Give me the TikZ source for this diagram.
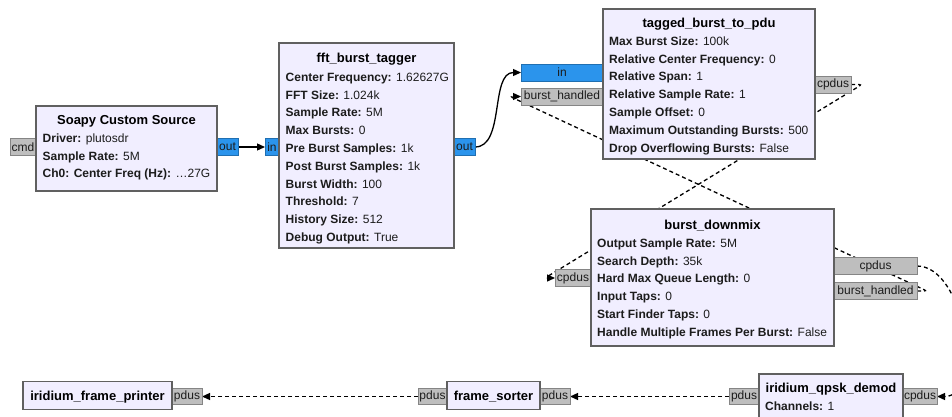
\documentclass[tikz,border=0pt]{standalone}
\usepackage{fontspec}
\setmainfont{Liberation Sans}
\usetikzlibrary{arrows.meta,backgrounds,calc}

\definecolor{blockfill}{HTML}{F1EEFF}
\definecolor{blockedge}{HTML}{606060}
\definecolor{portfill}{HTML}{BEBEBE}
\definecolor{portedge}{HTML}{858585}
\definecolor{portblue}{HTML}{2B94EC}
\definecolor{txt}{HTML}{1C1C1C}

\tikzset{
  block/.style={draw=blockedge, fill=blockfill, line width=1.2pt, anchor=north west,
    inner sep=0pt, outer sep=0pt},
  port/.style={draw=portedge, fill=portfill, line width=0.8pt, inner sep=0pt, outer sep=0pt,
    minimum height=16.5pt, font=\fontsize{12}{14}\selectfont, text=txt},
  bport/.style={port, fill=portblue, draw=portblue!75!black},
  btitle/.style={anchor=base, inner sep=0pt, font=\fontsize{13}{15}\selectfont\bfseries, text=black},
  param/.style={anchor=base west, inner sep=0pt, font=\fontsize{12}{14}\selectfont, text=txt},
  flow/.style={line width=1.3pt, -{Triangle[length=8pt,width=7pt]}},
  msg/.style={flow, dash pattern=on 4pt off 3pt},
}

% parameter rows of a block: name prefix, left x, first baseline, key/value list
\newcommand\plist[4]{%
  \foreach \k/\v [count=\i] in {#4}{%
    \node[param] (#1\i) at (#2,{#3+17.8*(\i-1)}) {\textbf{\k} \v};}}

\begin{document}
\begin{tikzpicture}[x=1pt,y=-1pt]
\useasboundingbox (0,0) rectangle (952,416);
\clip (0,0) rectangle (952,416);

% ---- Soapy Custom Source
\node[port, minimum width=26pt] (soapyCmd) at (23,147) {cmd};
\node[bport, minimum width=21pt] (soapyOut) at (227.5,147) {out};
\node[block, minimum width=181pt, minimum height=85pt] (soapy) at (36,106) {};
\node[btitle] (soapyT) at (126.5,124.3) {Soapy Custom Source};
\plist{soapyP}{42.5}{142.3}{Driver:/plutosdr, Sample Rate:/5M, {Ch0: Center Freq (Hz):}/…27G}

% ---- fft_burst_tagger
\node[bport, minimum width=14pt] (fftIn) at (272,147) {in};
\node[bport, minimum width=21pt] (fftOut) at (464.5,147) {out};
\node[block, minimum width=175pt, minimum height=205pt] (fft) at (279,43) {};
\node[btitle] (fftT) at (366.5,62.3) {fft\_burst\_tagger};
\plist{fftP}{285.5}{81.3}{Center Frequency:/1.62627G, FFT Size:/1.024k, Sample Rate:/5M,
  Max Bursts:/0, Pre Burst Samples:/1k, Post Burst Samples:/1k, Burst Width:/100,
  Threshold:/7, History Size:/512, Debug Output:/True}

% ---- tagged_burst_to_pdu
\node[bport, minimum width=82pt, minimum height=17pt] (tagIn) at (562,72.5) {in};
\node[port, minimum width=82pt, minimum height=17pt] (tagBh) at (562,96.5) {burst\_handled};
\node[port, minimum width=36pt, minimum height=17pt] (tagCp) at (833,84.5) {cpdus};
\node[block, minimum width=212pt, minimum height=150pt] (tag) at (603,9) {};
\node[btitle] (tagT) at (709,27.3) {tagged\_burst\_to\_pdu};
\plist{tagP}{609}{45.3}{Max Burst Size:/100k, Relative Center Frequency:/0, Relative Span:/1,
  Relative Sample Rate:/1, Sample Offset:/0, Maximum Outstanding Bursts:/500,
  Drop Overflowing Bursts:/False}

% ---- burst_downmix
\node[port, minimum width=36pt] (dmCpL) at (573,278) {cpdus};
\node[port, minimum width=83pt] (dmCpR) at (875.5,266) {cpdus};
\node[port, minimum width=83pt] (dmBh) at (875.5,291) {burst\_handled};
\node[block, minimum width=243pt, minimum height=137pt] (dm) at (591,209) {};
\node[btitle] (dmT) at (712.5,229.3) {burst\_downmix};
\plist{dmP}{597}{247.3}{Output Sample Rate:/5M, Search Depth:/35k, Hard Max Queue Length:/0,
  Input Taps:/0, Start Finder Taps:/0, Handle Multiple Frames Per Burst:/False}

% ---- bottom row
\node[port, minimum width=30pt] (prPdus) at (187,396.5) {pdus};
\node[block, minimum width=149pt, minimum height=28pt] (pr) at (23,381.5) {};
\node[btitle] (prT) at (97.5,400.5) {iridium\_frame\_printer};

\node[port, minimum width=29pt] (fsPdusL) at (432.5,396.5) {pdus};
\node[port, minimum width=30pt] (fsPdusR) at (555,396.5) {pdus};
\node[block, minimum width=93pt, minimum height=28pt] (fs) at (447,381.5) {};
\node[btitle] (fsT) at (493.5,400.5) {frame\_sorter};

\node[port, minimum width=30pt] (qpPdusL) at (744,396.5) {pdus};
\node[port, minimum width=34pt] (qpCp) at (920,396.5) {cpdus};
\node[block, minimum width=144pt, minimum height=60pt] (qp) at (759,374) {};
\node[btitle] (qpT) at (831,392.3) {iridium\_qpsk\_demod};
\plist{qpP}{765}{410.3}{Channels:/1}

% ---- connections, under the blocks
\begin{pgfonlayer}{background}
  \draw[flow] (soapyOut.east) -- (fftIn.west);
  \draw[flow] (fftOut.east) .. controls +(30,0) and +(-31,0) .. (tagIn.west);
  \draw[msg, rounded corners=3pt] (tagCp.east) -- ++(11,0)
      -- ($(dmCpL.west)+(-10,0)$) -- (dmCpL.west);
  \draw[msg, rounded corners=3pt] (dmBh.east) -- ++(10,0)
      -- ($(tagBh.west)+(-11,0)$) -- (tagBh.west);
  \draw[msg] (dmCpR.east) .. controls +(48,0) and +(48,0) .. (qpCp.east);
  \draw[msg] (qpPdusL.west) -- (fsPdusR.east);
  \draw[msg] (fsPdusL.west) -- (prPdus.east);
\end{pgfonlayer}
\end{tikzpicture}
\end{document}
